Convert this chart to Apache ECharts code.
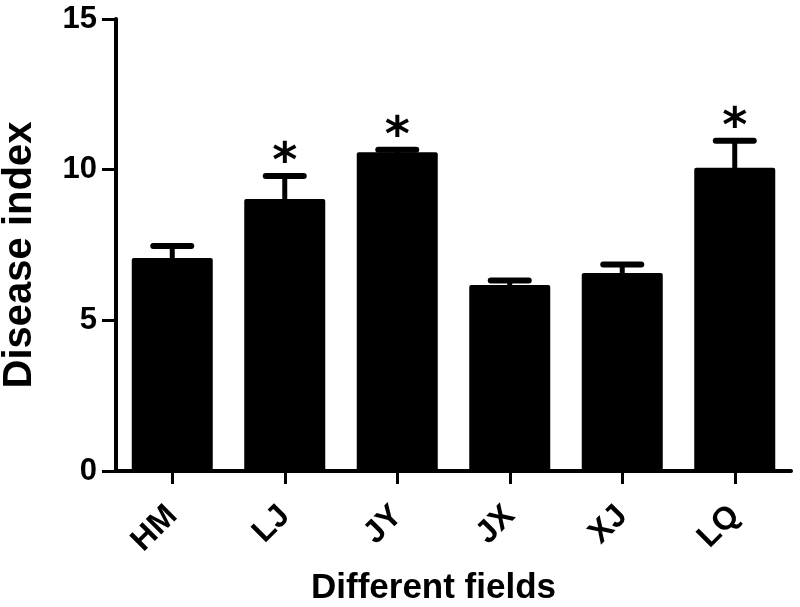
<!DOCTYPE html>
<html>
<head>
<meta charset="utf-8">
<script src="https://cdn.jsdelivr.net/npm/echarts@6/dist/echarts.min.js"></script>
<style>html,body{margin:0;padding:0;background:#fff}#c{width:800px;height:607px}</style>
</head>
<body>
<div id="c"></div>
<script>
var categories = ['HM', 'LJ', 'JY', 'JX', 'XJ', 'LQ'];
var means = [7.07, 9.03, 10.58, 6.17, 6.57, 10.06];
var errors = [0.40, 0.76, 0.08, 0.15, 0.28, 0.90];
var marks = ['', '*', '*', '', '', '*'];
var yTicks = [0, 5, 10, 15];

var chart = echarts.init(document.getElementById('c'), null, {renderer: 'canvas'});
var F = '"Liberation Sans", Arial, sans-serif';

var errData = categories.map(function (c, i) { return [i, means[i], errors[i], marks[i]]; });

chart.setOption({
  backgroundColor: '#ffffff',
  animation: false,
  grid: {left: 116, right: 9, top: 19, bottom: 136, containLabel: false, outerBoundsMode: 'none'},
  xAxis: {
    type: 'category',
    data: categories,
    boundaryGap: true,
    axisLine: {lineStyle: {color: '#000', width: 4}},
    axisTick: {show: true, alignWithLabel: true, length: 13, lineStyle: {color: '#000', width: 3}},
    axisLabel: {rotate: 45, margin: 40, color: '#000', fontFamily: F, fontWeight: 'bold', fontSize: 32},
    name: 'Different fields',
    nameLocation: 'middle',
    nameGap: 100,
    nameTextStyle: {color: '#000', fontFamily: F, fontWeight: 'bold', fontSize: 35, padding: [0, 40, 0, 0]}
  },
  yAxis: {
    type: 'value',
    min: yTicks[0],
    max: yTicks[yTicks.length - 1],
    interval: 5,
    splitLine: {show: false},
    axisLine: {show: true, lineStyle: {color: '#000', width: 4}},
    axisTick: {show: true, length: 14, lineStyle: {color: '#000', width: 3}},
    axisLabel: {margin: 19, color: '#000', fontFamily: F, fontWeight: 'bold', fontSize: 31},
    name: 'Disease index',
    nameLocation: 'middle',
    nameGap: 76,
    nameTextStyle: {color: '#000', fontFamily: F, fontWeight: 'bold', fontSize: 40, padding: [0, 20, 0, 0]}
  },
  series: [
    {
      type: 'bar',
      data: means,
      barWidth: '72%',
      itemStyle: {color: '#000', borderRadius: [2, 2, 0, 0]},
      z: 2
    },
    {
      type: 'custom',
      data: errData,
      z: 3,
      renderItem: function (params, api) {
        var i = api.value(0), m = api.value(1), e = api.value(2);
        var mark = errData[params.dataIndex][3];
        var base = api.coord([i, m]);
        var top = api.coord([i, m + e]);
        var x = base[0];
        var children = [
          {type: 'rect', shape: {x: x - 2.5, y: top[1], width: 5, height: base[1] - top[1] + 2}, style: {fill: '#000'}},
          {type: 'line', shape: {x1: x - 19, y1: top[1], x2: x + 19, y2: top[1]}, style: {stroke: '#000', lineWidth: 6, lineCap: 'round'}}
        ];
        if (mark) {
          children.push({type: 'text', style: {text: mark, x: x, y: top[1] - 12, align: 'center', verticalAlign: 'middle', fill: '#000', font: 'bold 48px "DejaVu Sans", sans-serif'}});
        }
        return {type: 'group', children: children};
      }
    }
  ]
});
</script>
</body>
</html>
